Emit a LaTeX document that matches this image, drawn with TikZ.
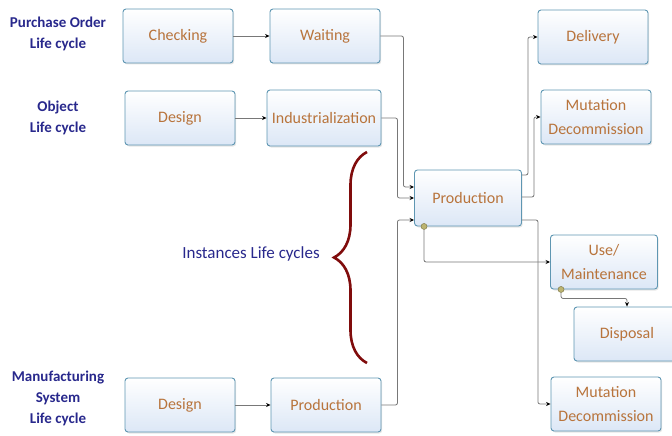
\documentclass[tikz,border=0pt]{standalone}
\usepackage{fontspec}
\setmainfont{Carlito}
\usetikzlibrary{arrows.meta,shadows,decorations.pathreplacing}

\definecolor{boxline}{RGB}{94,150,178}
\definecolor{boxfill}{RGB}{220,231,246}
\definecolor{stagetext}{RGB}{184,116,60}
\definecolor{lifeblue}{RGB}{40,40,140}
\definecolor{bracered}{RGB}{128,12,12}
\definecolor{linegray}{RGB}{120,120,120}
\definecolor{knobcol}{RGB}{188,180,112}

\tikzset{
  stage/.style={draw=boxline, line width=0.9pt, rounded corners=3pt,
    top color=white, bottom color=boxfill,
    minimum width=110pt, minimum height=54pt, align=center,
    text=stagetext, font=\fontsize{16}{24}\selectfont,
    drop shadow={shadow xshift=1.2pt, shadow yshift=-1.5pt, opacity=0.2}},
  life/.style={align=center, text=lifeblue, font=\fontsize{15}{21}\selectfont\bfseries},
  flow/.style={draw=linegray, line width=0.8pt, rounded corners=2pt,
    -{Stealth[length=4.5pt,width=4pt,color=black]}},
  knob/.style={circle, fill=knobcol, draw=knobcol!70!black, line width=0.5pt,
    inner sep=0pt, minimum size=6pt},
}

\begin{document}
\begin{tikzpicture}[x=1pt,y=-1pt]
\useasboundingbox (0,0) rectangle (672,436);

% life cycle names
\node[life] (po) at (58,34) {Purchase Order\\Life cycle};
\node[life] (obj) at (58,118) {Object\\Life cycle};
\node[life] (ms) at (58,398) {Manufacturing\\System\\Life cycle};

\node[text=lifeblue, font=\fontsize{17}{20}\selectfont] (inst) at (251,254) {Instances Life cycles};
\draw[bracered, line width=2.6pt, decorate, decoration={brace, amplitude=33pt}]
  (367,363) -- (367,152);

% stages
\node[stage] (chk) at (178,36) {Checking};
\node[stage] (wait) at (325,36) {Waiting};
\node[stage] (des) at (180,118) {Design};
\node[stage, minimum width=114pt, minimum height=56pt] (ind) at (324,118) {Industrialization};
\node[stage, minimum width=107pt, minimum height=56pt] (prod) at (468,198) {Production};
\node[stage] (deliv) at (593,37) {Delivery};
\node[stage] (mut) at (596,117) {Mutation\\Decommission};
\node[stage, minimum width=107pt] (use) at (604,262) {Use/\\Maintenance};
\node[stage, minimum width=106pt] (disp) at (627,334) {Disposal};
\node[stage] (mut2) at (606,404) {Mutation\\Decommission};
\node[stage] (des2) at (180,405) {Design};
\node[stage] (prod2) at (326,405) {Production};

\draw[flow] (chk) -- (wait);
\draw[flow] (des) -- (ind);
\draw[flow] (des2) -- (prod2);

\draw[flow] (wait.east) -- ++(23,0) |- ([yshift=11pt]prod.west);
\draw[flow] (ind.east) -- ++(16,0) |- (prod.west);
\draw[flow] (prod2.east) -- ++(16,0) |- ([yshift=-22pt]prod.west);

\draw[flow] ([yshift=23pt]prod.east) -- ++(6,0) |- (deliv.west);
\draw[flow] ([yshift=1pt]prod.east) -- ++(12,0) |- (mut.west);
\draw[flow] ([yshift=-22pt]prod.east) -- ++(16,0) |- (mut2.west);

\coordinate (pk) at ([xshift=10pt]prod.south west);
\coordinate (uk) at ([xshift=11pt]use.south west);
\draw[flow] (pk) |- (use.west);
\draw[flow] (uk) -- ++(0,9) -| (disp.north);
\node[knob] (pkdot) at (pk) {};
\node[knob] (ukdot) at (uk) {};

\end{tikzpicture}
\end{document}
